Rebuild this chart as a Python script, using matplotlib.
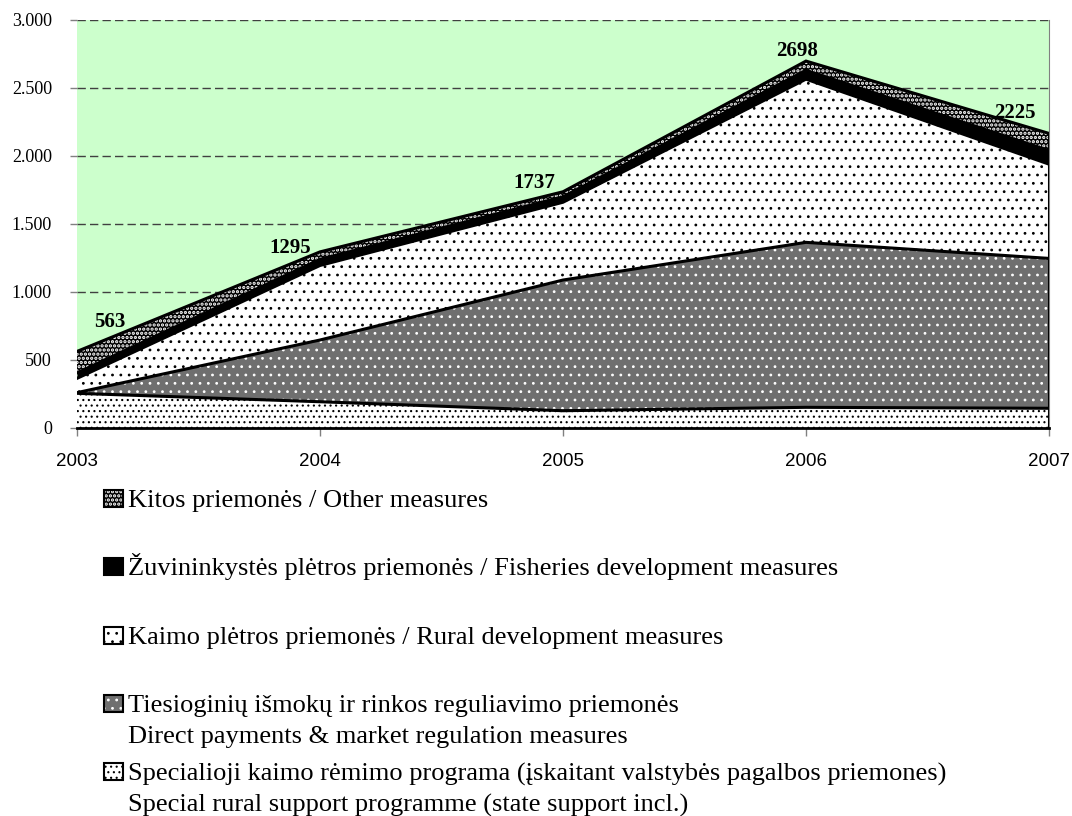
import numpy as np
import matplotlib
matplotlib.use("Agg")
import matplotlib.pyplot as plt
from matplotlib.patches import Rectangle
from matplotlib.ticker import FuncFormatter, MultipleLocator

plt.rcParams['font.family'] = ['Liberation Serif', 'DejaVu Serif']
plt.rcParams['hatch.linewidth'] = 0.8

# data (thousand LTL / mln.)
years = [2003, 2004, 2005, 2006, 2007]
special = [255, 193, 127, 152, 145]
direct = [5, 454, 961, 1213, 1102]
rural = [105, 548, 572, 1200, 693]
fisheries = [40, 45, 40, 65, 100]
other = [158, 55, 37, 68, 126]
total_labels = [563, 1295, 1737, 2698, 2225]

legend_labels = [
    ["Kitos priemonės / Other measures"],
    ["Žuvininkystės plėtros priemonės / Fisheries development measures"],
    ["Kaimo plėtros priemonės / Rural development measures"],
    ["Tiesioginių išmokų ir rinkos reguliavimo priemonės",
     "Direct payments & market regulation measures"],
    ["Specialioji kaimo rėmimo programa (įskaitant valstybės pagalbos priemones)",
     "Special rural support programme (state support incl.)"],
]

# styles, bottom layer first: (face, hatch, hatch colour, hatch width)
styles = [
    ("white", "...", "black", 0.8),
    ("#6f6f6f", "..", "white", 0.8),
    ("white", "..", "black", 0.8),
    ("black", None, "black", 0.8),
    ("black", "....", "white", 1.6),
]
label_offsets = [(33, 29), (-30, 4), (-29, 9), (-9, 10), (-34, 20)]

W, H = 1072, 816
fig = plt.figure(figsize=(W / 100, H / 100), dpi=100)
ax = fig.add_axes([77 / W, 1 - 428 / H, (1049 - 77) / W, (428 - 20) / H])
ax.set_facecolor("#CCFFCC")

layers = np.array([special, direct, rural, fisheries, other], dtype=float)
tops = np.cumsum(layers, axis=0)
bottoms = np.vstack([np.zeros(len(years)), tops[:-1]])

for i, (fc, hatch, hc, hw) in enumerate(styles):
    with plt.rc_context({'hatch.linewidth': hw}):
        ax.fill_between(years, bottoms[i], tops[i], facecolor=fc, hatch=hatch,
                        edgecolor=hc, linewidth=0, zorder=2)
for i in range(len(styles)):
    ax.plot(years, tops[i], color="black", lw=2.2, zorder=3,
            solid_joinstyle="miter")
ax.vlines(years[-1], 0, tops[-1][-1], color="black", lw=2.2, zorder=3)

for yr, top, lab, off in zip(years, tops[-1], total_labels, label_offsets):
    ax.annotate(str(lab), xy=(yr, top), xytext=off, textcoords="offset pixels",
                ha="center", va="center", fontsize=15, fontweight="bold",
                zorder=5)

ax.set_xlim(years[0], years[-1])
ax.set_ylim(0, 3000)
ax.yaxis.set_major_locator(MultipleLocator(500))
ax.yaxis.set_major_formatter(FuncFormatter(lambda v, p: f"{int(v):,}".replace(",", ".")))
ax.set_xticks(years)
ax.yaxis.grid(True, linestyle=(0, (6, 3)), color="#404040", lw=1)
ax.set_axisbelow(True)

for s in ["left", "top"]:
    ax.spines[s].set_visible(False)
ax.spines["right"].set_color("#808080")
ax.spines["bottom"].set_color("black")
ax.spines["bottom"].set_linewidth(2)
ax.spines["bottom"].set_zorder(4)

ax.tick_params(axis="y", direction="out", length=5, width=1, color="#808080",
               labelsize=13, pad=13)
ax.tick_params(axis="x", direction="out", length=6, width=1, color="#808080",
               labelsize=13.5, pad=12)
for t in ax.get_xticklabels():
    t.set_family("Liberation Sans")

# legend drawn by hand to keep the reference layout
first_base = 507
pitch = 68.3
for i, lines in enumerate(legend_labels):
    fc, hatch, hc, hw = styles[len(styles) - 1 - i]
    base = first_base + i * pitch
    x0, x1 = 104 / W, 123 / W
    y0 = 1 - base / H
    h = 17 / H
    with plt.rc_context({'hatch.linewidth': hw}):
        fig.patches.append(Rectangle((x0, y0), x1 - x0, h, transform=fig.transFigure,
                                     facecolor=fc, hatch=hatch, edgecolor=hc, lw=0))
    fig.patches.append(Rectangle((x0, y0), x1 - x0, h, transform=fig.transFigure,
                                 facecolor="none", edgecolor="black", lw=1.5))
    for j, line in enumerate(lines):
        fig.text(128 / W, 1 - (base + j * 31) / H, line, fontsize=19,
                 va="baseline", ha="left")

fig.savefig("out.png", dpi=100)
